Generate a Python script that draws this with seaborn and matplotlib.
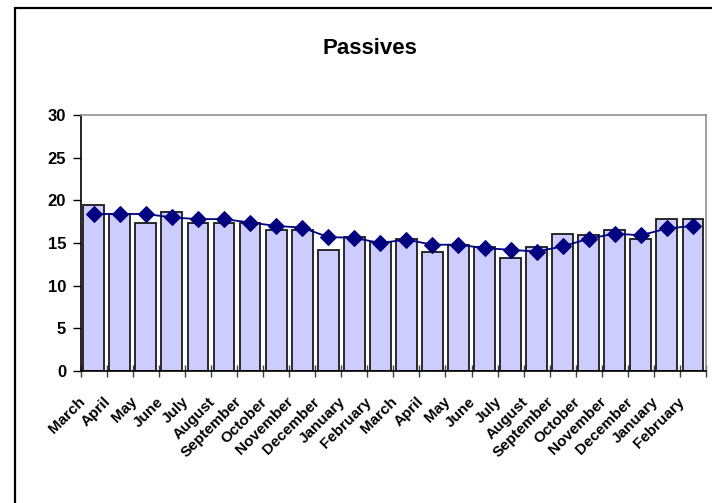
import numpy as np
import pandas as pd
import matplotlib
matplotlib.use("Agg")
import matplotlib.pyplot as plt
import matplotlib.transforms as mtransforms
from matplotlib.patches import Rectangle
import seaborn as sns

# Monthly values over two years (March .. February, twice)
months = ["March", "April", "May", "June", "July", "August", "September",
          "October", "November", "December", "January", "February"] * 2
monthly_passives = [19.5, 18.4, 17.3, 18.6, 17.4, 17.3, 17.3, 16.5, 16.5, 14.2,
                    15.7, 15.1, 15.5, 14.0, 14.8, 14.5, 13.3, 14.5, 16.1, 15.9,
                    16.5, 15.5, 17.8, 17.8]
trend_passives = [18.4, 18.4, 18.4, 18.0, 17.8, 17.8, 17.4, 17.0, 16.8, 15.7,
                  15.6, 15.0, 15.4, 14.8, 14.8, 14.4, 14.2, 14.0, 14.6, 15.5,
                  16.1, 15.9, 16.7, 17.0]
y_ticks = [0, 5, 10, 15, 20, 25, 30]
title = "Passives"

sns.set_style("white")
plt.rcParams["font.family"] = ["Liberation Sans", "DejaVu Sans"]
plt.rcParams["font.weight"] = "bold"
plt.rcParams["text.color"] = "black"
plt.rcParams["xtick.color"] = "black"
plt.rcParams["ytick.color"] = "black"

df = pd.DataFrame({
    "idx": np.arange(len(months)),
    "month": months,
    "bar": monthly_passives,
    "trend": trend_passives,
})

W, H = 712, 503
fig = plt.figure(figsize=(W / 100, H / 100), dpi=100)
ax = fig.add_axes([80.7 / W, 1 - 371 / H, (706 - 80.7) / W, (371 - 115) / H])

sns.barplot(data=df, x="idx", y="bar", color="#CCCCFF", saturation=1,
            width=0.8, edgecolor="#1a1a1a", linewidth=1.3, ax=ax)
sns.lineplot(data=df, x="idx", y="trend", color="#000080", marker="D",
             markersize=8, markeredgecolor="#000080", linewidth=1.3, ax=ax)

ax.set_xlim(-0.5, len(months) - 0.5)
ax.set_ylim(0, 30)
ax.set_yticks(y_ticks)
ax.set_yticklabels([str(v) for v in y_ticks], fontsize=12, fontweight="bold",
                   color="black")
ax.set_xticks(df["idx"])
ax.set_xticklabels(months, rotation=45, ha="right", fontsize=11,
                   fontweight="bold", color="black")
ax.set_xticks(np.arange(len(months) + 1) - 0.5, minor=True)
ax.tick_params(axis="x", which="major", length=0, pad=17)
ax.tick_params(axis="x", which="minor", direction="inout", length=8,
               width=1, color="#404040", bottom=True)
ax.tick_params(axis="y", which="major", direction="out", length=5.5,
               width=1, color="black", pad=5, left=True)
ax.set_xlabel("")
ax.set_ylabel("")

shift = mtransforms.ScaledTranslation(-6 / 100, 0, fig.dpi_scale_trans)
for lbl in ax.get_xticklabels():
    lbl.set_transform(lbl.get_transform() + shift)

for side in ("top", "right"):
    ax.spines[side].set_color("#909090")
    ax.spines[side].set_linewidth(1.2)
for side in ("left", "bottom"):
    ax.spines[side].set_color("black")
    ax.spines[side].set_linewidth(1.2)

fig.text(370 / W, 1 - 49 / H, title, ha="center", va="center",
         fontsize=16, fontweight="bold", color="black")

border = Rectangle((14.5 / W, -0.2), 1.3, 1.2 - 7.5 / H, transform=fig.transFigure,
                   fill=False, edgecolor="black", linewidth=1.6)
fig.patches.append(border)

fig.savefig("out.png", dpi=100, facecolor="white")
